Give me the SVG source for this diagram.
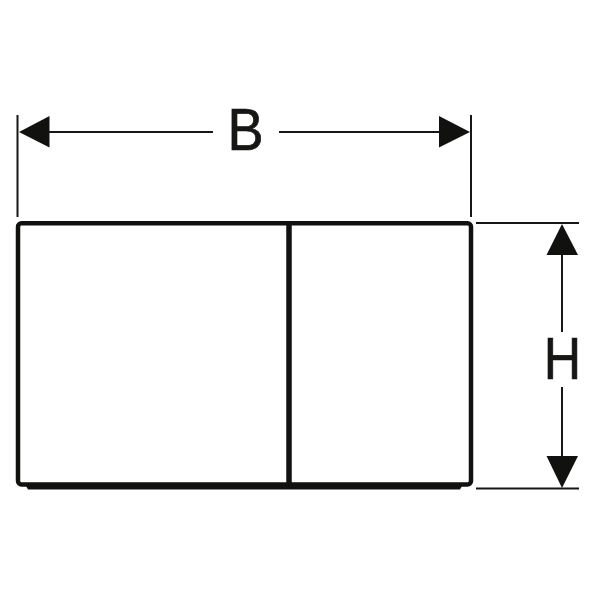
<svg xmlns="http://www.w3.org/2000/svg" width="600" height="600" viewBox="0 0 600 600">
  <style>
    .dim{stroke:#161615;stroke-width:2;fill:none}
    .edge{stroke:#111110;stroke-width:4.500;fill:none}
    .head{fill:#111110}
    .label{font-family:"Liberation Sans",Arial,sans-serif;font-size:59.500px;fill:#161615;stroke:#161615;stroke-width:.7;text-anchor:middle}
  </style>
  <rect width="600" height="600" fill="#fff"/>
  <g id="plate">
    <path class="head" d="M25 484H463L460 489.500H28Z"/>
    <rect class="edge" x="18" y="223.200" width="453" height="261.300" rx="3.500"/>
    <path class="edge" d="M289 223V485" style="stroke-width:5.500"/>
  </g>
  <g id="connectors">
    <path class="dim" d="M17.500 115V217M471 115V217M476 223H579M476 488.500H579"/>
    <path class="dim" d="M48 132H213M279 132H441M562 254V332M562 387V458"/>
    <path class="head" d="M19 132L49.500 116V147.500Z"/>
    <path class="head" d="M470 132L439 116V147.500Z"/>
    <path class="head" d="M562 224L546.500 255H578Z"/>
    <path class="head" d="M562 488L546.500 456H578Z"/>
  </g>
  <g id="label-b"><text class="label" transform="translate(245.500 150.200) scale(.91 1)">B</text></g>
  <g id="label-h"><text class="label" transform="translate(562.500 379.200) scale(.87 1)">H</text></g>
</svg>
